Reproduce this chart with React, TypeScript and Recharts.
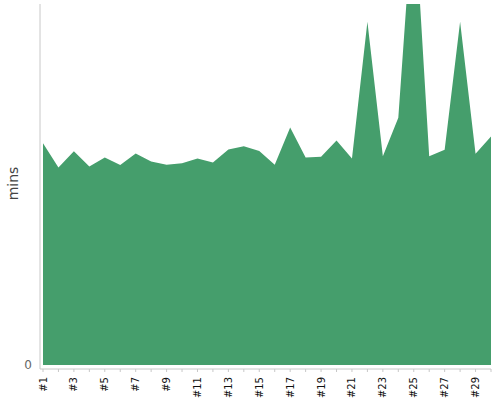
import React from 'react';
import { AreaChart, Area, XAxis, YAxis } from 'recharts';

const categories = ['#1','#2','#3','#4','#5','#6','#7','#8','#9','#10','#11','#12','#13','#14','#15','#16','#17','#18','#19','#20','#21','#22','#23','#24','#25','#26','#27','#28','#29','#30'];
const minsValues = [61.4,54.7,59.2,55.0,57.5,55.4,58.6,56.4,55.5,55.9,57.2,56.1,59.7,60.6,59.3,55.5,65.8,57.5,57.7,62.2,57.2,95.1,57.8,68.5,129,57.8,59.6,95.1,58.5,63.3];
const yTicks = [0];

const data = categories.map((c, i) => ({ name: c, mins: minsValues[i] }));

const FONT = 'DejaVu Sans';

const XTick = (props: any) => {
  const { x, y, payload, index } = props;
  if (index % 2 !== 0) return null;
  return (
    <text
      x={x}
      y={y + 3}
      dy="0.35em"
      textAnchor="end"
      transform={`rotate(-90, ${x}, ${y + 3})`}
      fontFamily={FONT}
      fontSize={10}
      fill="#111"
    >
      {payload.value}
    </text>
  );
};

const MinsLabel = (props: any) => {
  const vb = props.viewBox || { x: 0, y: 4, height: 365 };
  const cx = vb.x + 18;
  const cy = vb.y + vb.height / 2 - 3;
  return (
    <text
      x={cx}
      y={cy}
      textAnchor="middle"
      transform={`rotate(-90, ${cx}, ${cy})`}
      fontFamily={FONT}
      fontSize={14}
      fill="#444"
    >
      mins
    </text>
  );
};

export default function App() {
  return (
    <div style={{ position: 'absolute', left: 0, top: 0 }}>
      <AreaChart width={500} height={400} data={data} margin={{ top: 4, right: 9, bottom: 0, left: 0 }}>
        <XAxis
          dataKey="name"
          interval={0}
          height={31}
          padding={{ left: 3, right: 0 }}
          tick={<XTick />}
          tickSize={3}
          stroke="#c8c8c8"
          axisLine={{ stroke: '#c8c8c8' }}
          tickLine={{ stroke: '#c8c8c8' }}
        />
        <YAxis
          width={40}
          domain={[0, 100]}
          allowDataOverflow
          ticks={yTicks}
          padding={{ top: 0, bottom: 4 }}
          tickLine={false}
          axisLine={{ stroke: '#c8c8c8' }}
          tick={{ fontFamily: FONT, fontSize: 12, fill: '#666' }}
          label={<MinsLabel />}
        />
        <Area
          type="linear"
          dataKey="mins"
          stroke="none"
          fill="#459e6c"
          fillOpacity={1}
          isAnimationActive={false}
          dot={false}
          activeDot={false}
        />
      </AreaChart>
    </div>
  );
}
